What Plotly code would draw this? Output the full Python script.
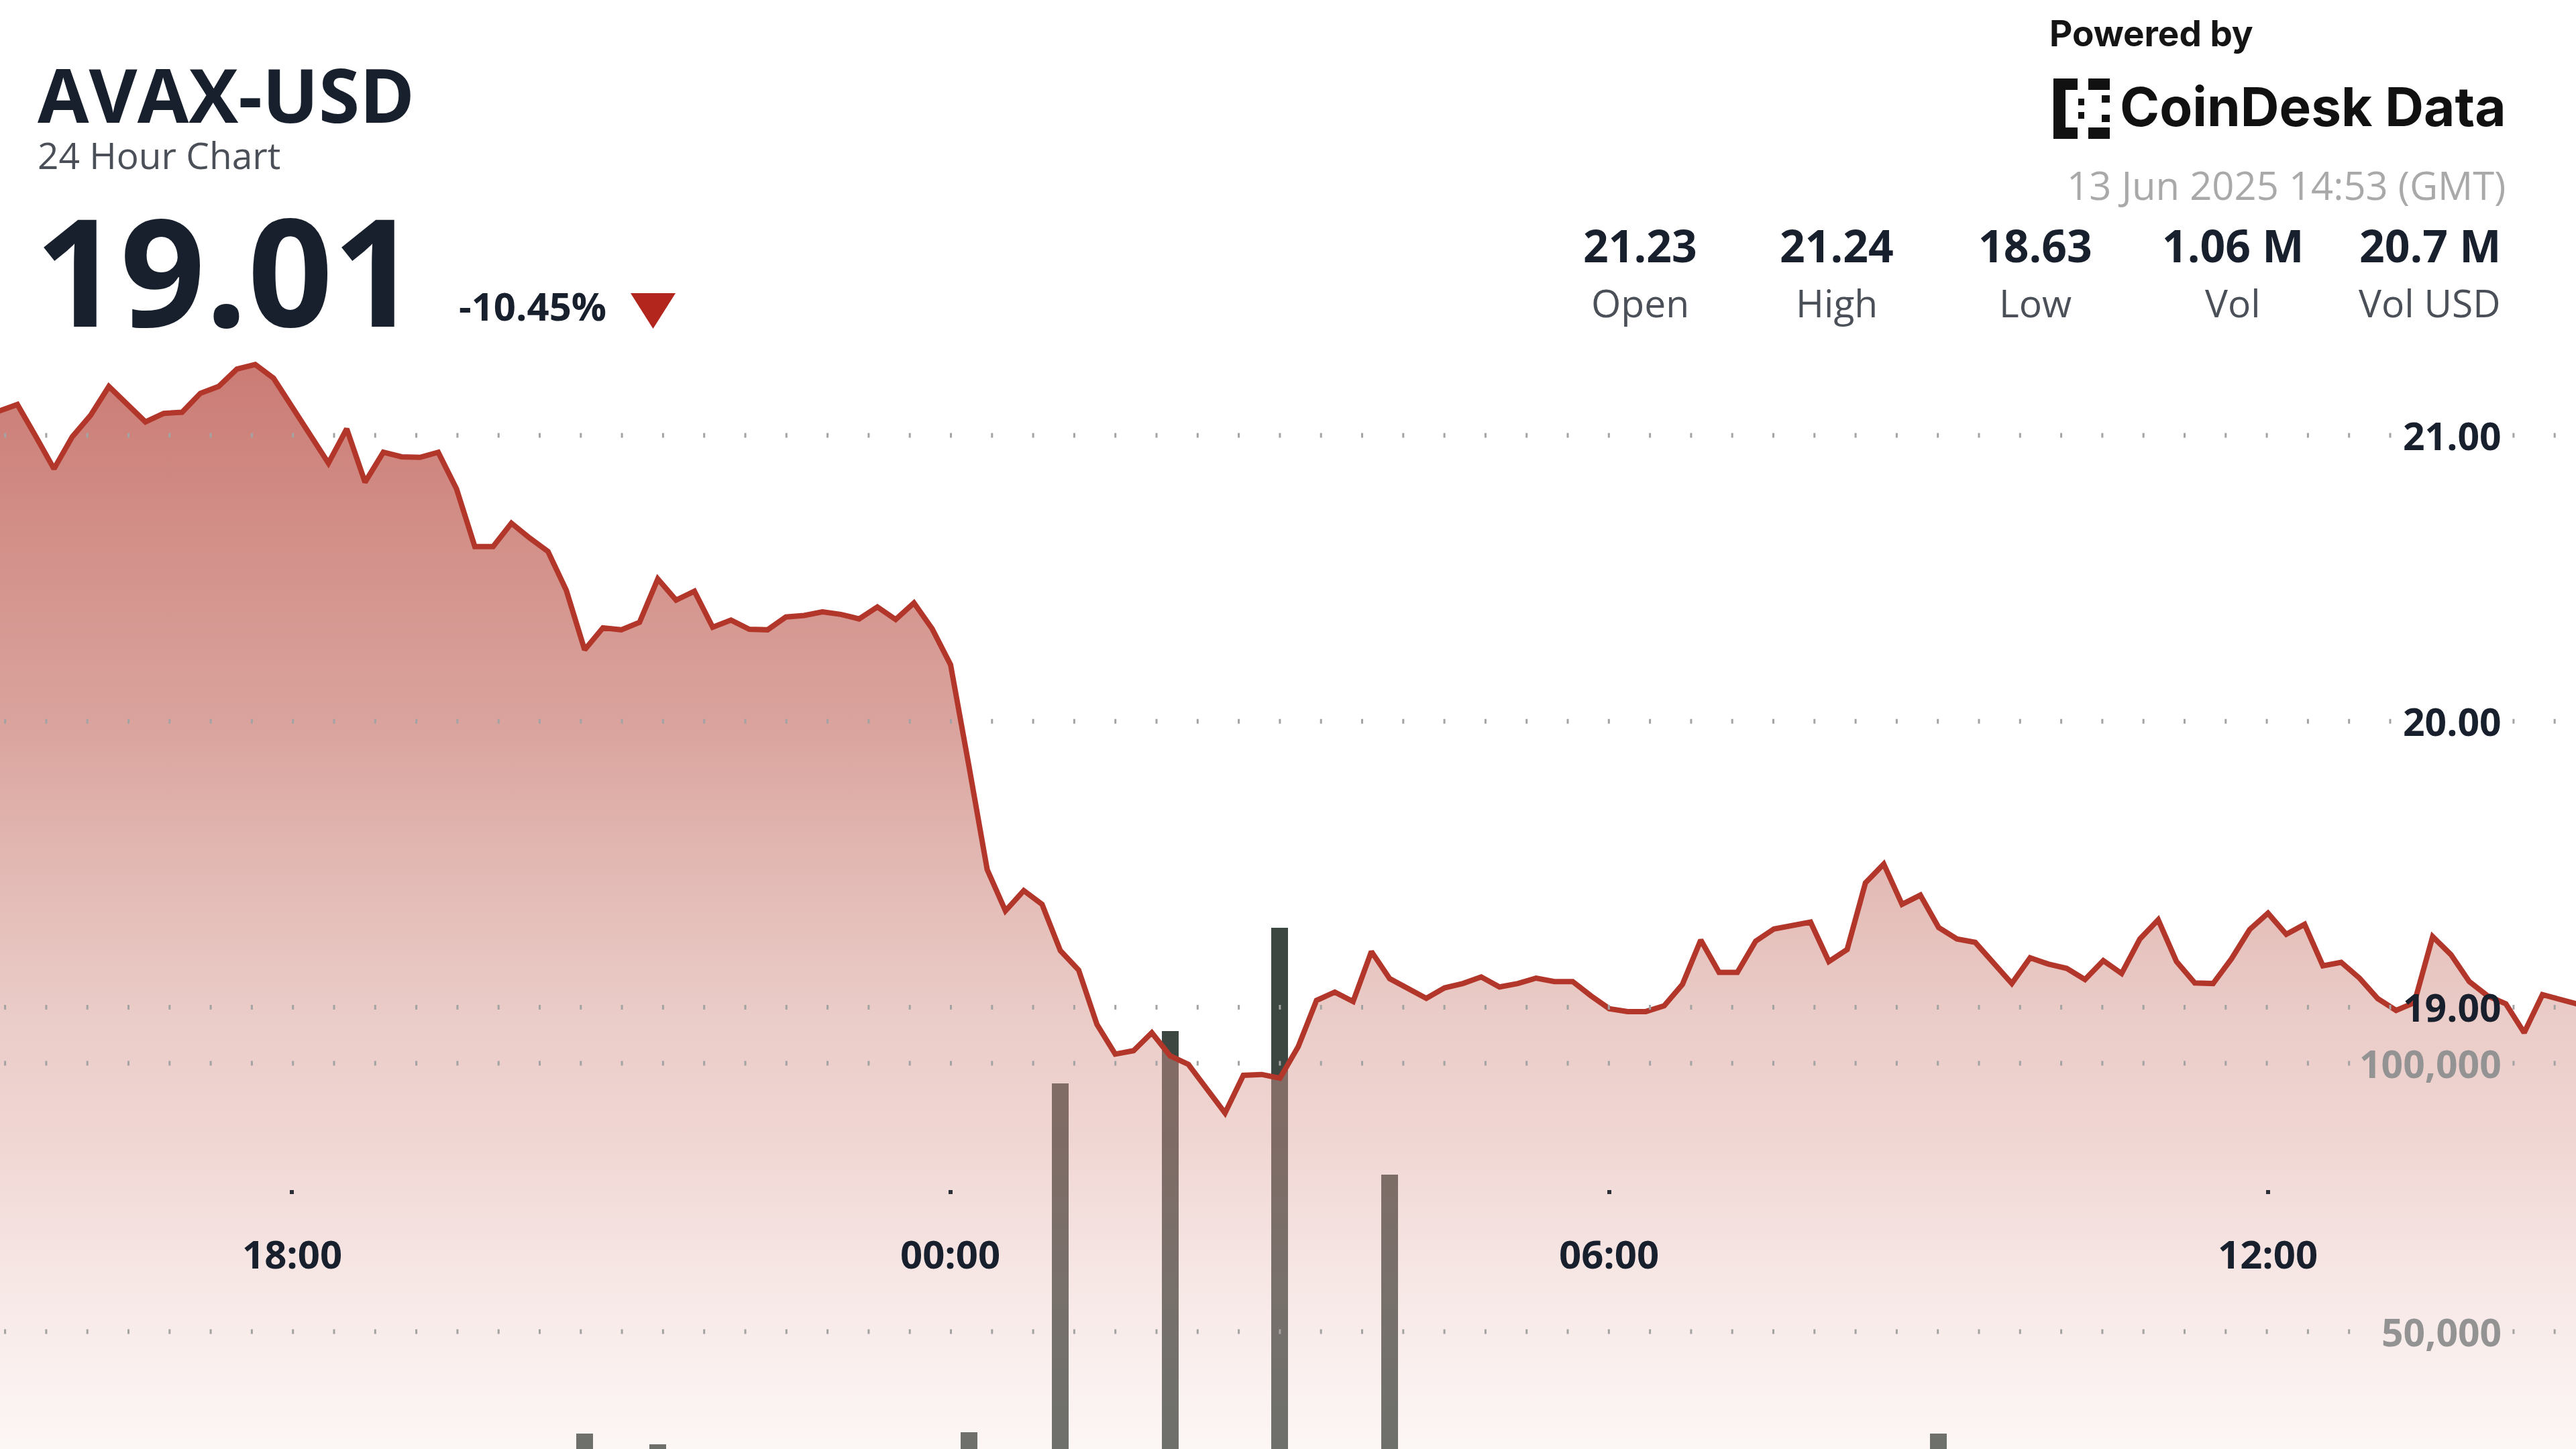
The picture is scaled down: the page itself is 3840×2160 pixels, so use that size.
import pandas as pd
import plotly.graph_objects as go

# ---------------- data ----------------
symbol = "AVAX-USD"
subtitle = "24 Hour Chart"
last_price = "19.01"
change_pct = "-10.45%"
timestamp_text = "13 Jun 2025 14:53 (GMT)"
stat_values = ["21.23", "21.24", "18.63", "1.06 M", "20.7 M"]
stat_labels = ["Open", "High", "Low", "Vol", "Vol USD"]

price_start = "2025-06-12 15:20"
price_step = "10min"
price = [
    21.085, 21.108, 20.997, 20.883, 20.995, 21.070, 21.171, 21.108, 21.047, 21.077,
    21.081, 21.147, 21.171, 21.232, 21.248, 21.200, 21.103, 21.005, 20.903, 21.023,
    20.836, 20.941, 20.925, 20.923, 20.941, 20.813, 20.611, 20.611, 20.693, 20.641,
    20.594, 20.458, 20.250, 20.327, 20.320, 20.346, 20.498, 20.424, 20.455, 20.329,
    20.354, 20.322, 20.320, 20.365, 20.370, 20.383, 20.374, 20.358, 20.400, 20.356,
    20.414, 20.323, 20.198, 19.845, 19.482, 19.337, 19.408, 19.360, 19.198, 19.130,
    18.940, 18.836, 18.848, 18.911, 18.830, 18.800, 18.716, 18.630, 18.762, 18.765,
    18.752, 18.862, 19.024, 19.053, 19.020, 19.195, 19.100, 19.068, 19.031, 19.068,
    19.083, 19.106, 19.071, 19.083, 19.102, 19.090, 19.090, 19.040, 18.995, 18.985,
    18.985, 19.005, 19.080, 19.235, 19.122, 19.122, 19.231, 19.274, 19.284, 19.298,
    19.160, 19.202, 19.435, 19.501, 19.360, 19.392, 19.279, 19.239, 19.227, 19.155,
    19.083, 19.173, 19.151, 19.136, 19.097, 19.163, 19.118, 19.239, 19.306, 19.160,
    19.085, 19.083, 19.169, 19.272, 19.329, 19.255, 19.290, 19.145, 19.157, 19.102,
    19.030, 18.989, 19.016, 19.247, 19.184, 19.090, 19.040, 19.012, 18.911, 19.044,
    19.027, 19.010,
]
price_times = pd.date_range(price_start, periods=len(price), freq=price_step)

vol_times = [
    "2025-06-12 20:40", "2025-06-12 21:20", "2025-06-13 00:10", "2025-06-13 01:00",
    "2025-06-13 02:00", "2025-06-13 03:00", "2025-06-13 04:00", "2025-06-13 09:00",
]
vol_values = [31000, 29000, 31200, 96300, 106000, 125300, 79300, 31000]

price_ticks = [21, 20, 19]
price_tick_labels = ["21.00", "20.00", "19.00"]
vol_ticks = [100000, 50000]
vol_tick_labels = ["100,000", "50,000"]
time_ticks = ["2025-06-12 18:00", "2025-06-13 00:00", "2025-06-13 06:00", "2025-06-13 12:00"]
time_tick_labels = ["18:00", "00:00", "06:00", "12:00"]

# ---------------- layout helpers ----------------
W, H = 3840, 2160


def px(x):
    return x / W


def py(y):
    return 1 - y / H


DARK = "#19202d"
GREY = "#4b5058"

fig = go.Figure()

# volume bars (drawn underneath the price area)
fig.add_trace(go.Bar(
    x=vol_times, y=vol_values, xaxis="x", yaxis="y",
    marker=dict(color="#3c4742", line=dict(width=0)),
    width=550000, hoverinfo="skip", showlegend=False,
))

# price area
fig.add_trace(go.Scatter(
    x=price_times, y=price, xaxis="x", yaxis="y2", mode="lines",
    line=dict(color="#b3362b", width=8),
    fill="tozeroy",
    fillgradient=dict(
        type="vertical", start=17.455, stop=21.3,
        colorscale=[
            [0.0, "rgba(244,222,218,0.27)"],
            [0.28, "rgba(219,157,150,0.42)"],
            [0.40, "rgba(211,147,138,0.48)"],
            [0.66, "rgba(189,91,80,0.56)"],
            [1.0, "rgba(176,59,48,0.68)"],
        ],
    ),
    hoverinfo="skip", showlegend=False,
))

shapes = []
# dotted grid lines with a gap around the labels
DOT = dict(color="#a3a3a3", width=7, dash="3px,58.3px")
for v in price_ticks:
    shapes.append(dict(type="line", xref="paper", yref="y2", x0=px(6.1), x1=px(3566), y0=v, y1=v,
                       line=DOT, layer="above"))
    shapes.append(dict(type="line", xref="paper", yref="y2", x0=px(3745.4), x1=1, y0=v, y1=v,
                       line=DOT, layer="above"))
for v in vol_ticks:
    shapes.append(dict(type="line", xref="paper", yref="y", x0=px(6.1), x1=px(3505), y0=v, y1=v,
                       line=DOT, layer="above"))
    shapes.append(dict(type="line", xref="paper", yref="y", x0=px(3745.4), x1=1, y0=v, y1=v,
                       line=DOT, layer="above"))

# down triangle next to the change
shapes.append(dict(type="path", xref="paper", yref="paper",
                   path=f"M {px(940)},{py(437)} L {px(1007)},{py(437)} L {px(973.5)},{py(490)} Z",
                   fillcolor="#b3261e", line=dict(width=0)))

# CoinDesk Data logo mark (pixel squares)
logo_blocks = [
    (3061, 117, 3079, 207),  # left column
    (3079, 117, 3097, 134), (3113, 117, 3145, 134),  # top row
    (3079, 190, 3097, 207), (3113, 190, 3145, 207),  # bottom row
    (3098, 147, 3107, 157), (3098, 167, 3107, 177),  # middle dots
    (3133, 142, 3145, 153), (3133, 171, 3145, 182),  # right dots
]
for x0, y0, x1, y1 in logo_blocks:
    shapes.append(dict(type="rect", xref="paper", yref="paper",
                       x0=px(x0), x1=px(x1), y0=py(y0), y1=py(y1),
                       fillcolor="#111111", line=dict(width=0)))

ann = []


def text(x, y, s, size, color, weight=400, family="Open Sans", xanchor="left", xref="paper", yref="paper"):
    ann.append(dict(x=x, y=y, xref=xref, yref=yref, text=s, showarrow=False,
                    xanchor=xanchor, yanchor="middle",
                    font=dict(family=family, size=size, color=color, weight=weight)))


text(px(54), py(140), symbol, 111, DARK, 700)
text(px(54), py(231), subtitle, 55, GREY, 400)
text(px(50), py(401), last_price, 222, DARK, 700)
text(px(682), py(455), change_pct, 58, DARK, 700)

text(px(3053), py(50), "Powered by", 53, "#151515", 700, family="Inter")
text(px(3158), py(159), "CoinDesk Data", 80, "#111111", 700, family="Inter")
text(px(3737), py(275), timestamp_text, 58, "#a9a9a9", 400, xanchor="right")

stat_centers = [2445, 2738, 3034, 3328, 3622]
for cx, v, l in zip(stat_centers, stat_values, stat_labels):
    text(px(cx), py(365), v, 66, DARK, 700, xanchor="center")
    text(px(cx), py(451), l, 57, GREY, 400, xanchor="center")

for v, l in zip(price_ticks, price_tick_labels):
    text(px(3731), v, l, 57, DARK, 700, xanchor="right", yref="y2")
for v, l in zip(vol_ticks, vol_tick_labels):
    text(px(3731), v, l, 57, "#939393", 700, xanchor="right", yref="y")
for t, l in zip(time_ticks, time_tick_labels):
    text(t, py(1868), l, 58, DARK, 700, xanchor="center", xref="x")

fig.update_layout(
    width=W, height=H, autosize=False,
    margin=dict(l=0, r=0, t=0, b=0, pad=0),
    paper_bgcolor="white", plot_bgcolor="white",
    showlegend=False, hovermode=False, bargap=0,
    xaxis=dict(
        type="date", range=["2025-06-12 15:20:30", "2025-06-13 14:48:20"],
        anchor="free", position=py(1773), domain=[0, 1],
        tickvals=time_ticks, ticks="outside", ticklen=6, tickwidth=6, tickcolor="#2a2f38",
        showticklabels=False, showgrid=False, zeroline=False, showline=False,
    ),
    yaxis=dict(range=[28125, 298125], domain=[0, 1], visible=False, showgrid=False),
    yaxis2=dict(range=[17.4551, 22.5226], overlaying="y", visible=False, showgrid=False),
    shapes=shapes,
    annotations=ann,
)

fig.write_html(
    "out.html",
    config={"displayModeBar": False, "staticPlot": True},
    post_script="document.body.style.margin='0';document.body.style.padding='0';document.body.style.overflow='hidden';",
)
